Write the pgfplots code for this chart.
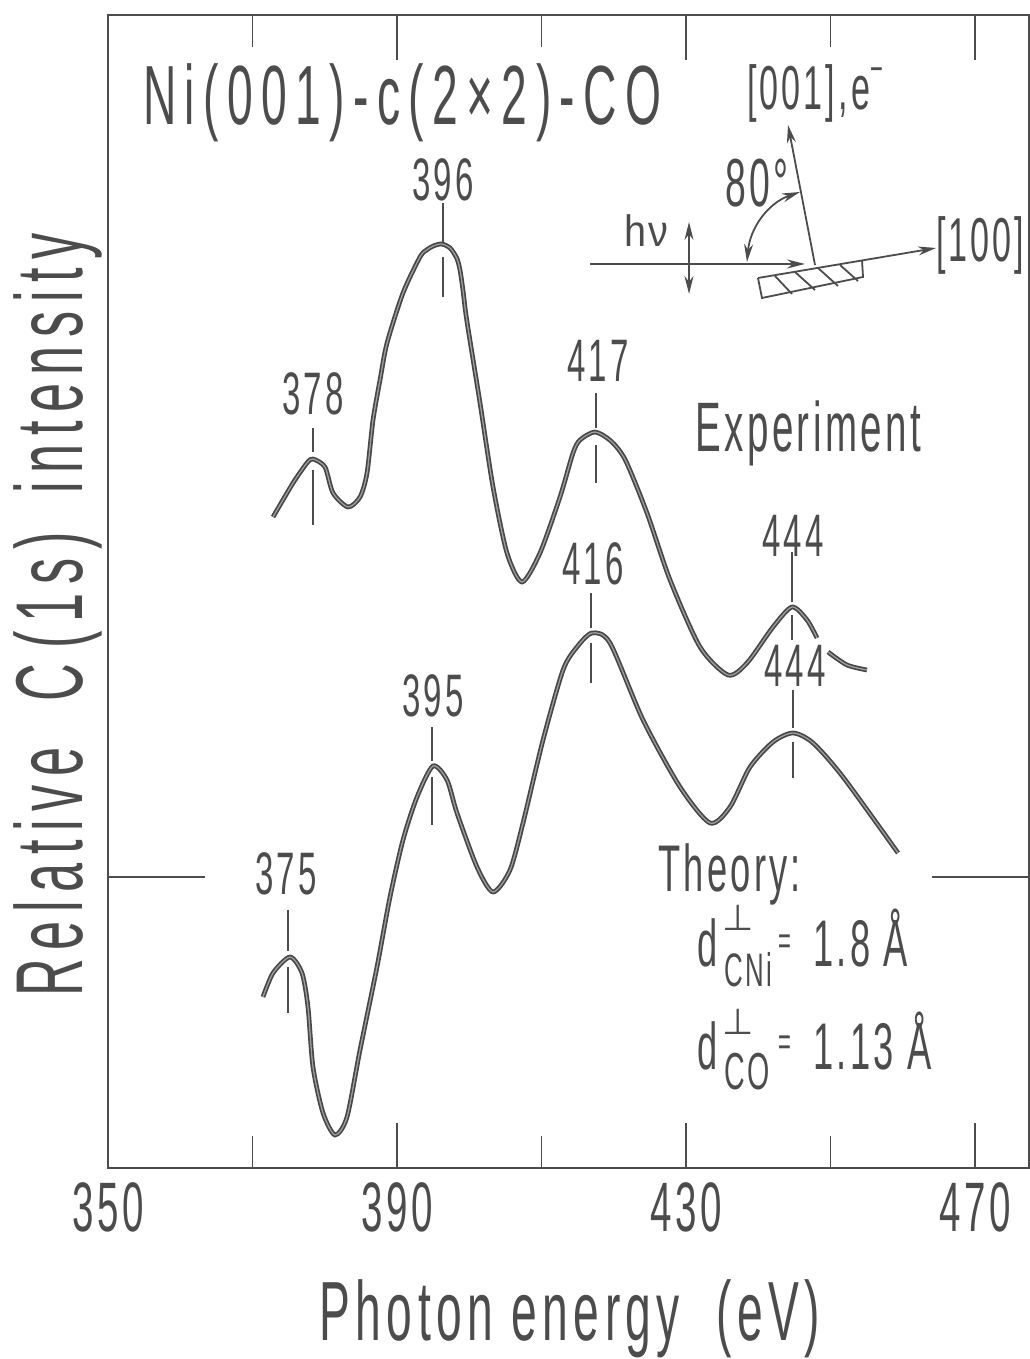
\documentclass[border=0pt]{standalone}
\usepackage{pgfplots}
\pgfplotsset{compat=1.18}
\usepackage{fontspec}
\setmainfont{Liberation Sans}[FakeStretch=0.55, LetterSpace=5]
\newfontfamily\symfont{DejaVu Sans}
\usetikzlibrary{arrows.meta}
\newcommand\fs[1]{\fontsize{#1pt}{#1pt}\selectfont}
\definecolor{ink}{gray}{0.3}
\pgfplotsset{curve/.style={draw=black!72, line width=1.7pt, double=black!38, double distance=1.3pt, smooth, tension=0.45}}
\begin{document}
\begin{tikzpicture}
\begin{axis}[
  scale only axis, width=921pt, height=1153pt,
  xmin=350, xmax=477.47, ymin=0, ymax=1153,
  axis line style={line width=2pt, ink},
  xtick={350,390,430,470}, xticklabels={350,390,430,470},
  minor xtick={370,410,450},
  ytick=\empty,
  major tick length=45pt, minor tick length=32pt,
  tick style={line width=1.6pt, ink},
  xticklabel style={font=\fs{70}, text=ink, inner sep=0pt, yshift=-14pt},
  clip=false,
]
% experiment
\addplot[curve] coordinates {
(372.84,651) (375.61,685) (377.54,705) (378.37,709) (380.03,701) (381.14,675)
(383.22,661) (384.88,671) (385.85,695) (386.68,748) (387.65,788) (388.62,825)
(390.83,875) (393.18,911) (394.10,918) (395.02,922) (396.17,924) (397.34,920)
(398.26,910) (398.72,898) (399.18,875) (399.65,848)
(401.49,765) (403.29,681) (405.22,615) (407.30,586) (409.79,615) (412.56,671)
(414.36,715) (415.33,728) (417.40,736) (419.60,727) (421.60,708) (424.60,655)
(427.79,588) (431.94,521) (435.81,493) (438.44,505) (442.04,541) (444.67,561)
(446.75,548) (448.13,530)
};
\addplot[curve] coordinates {
(449.65,516) (452.28,503) (455.05,498)
};
% theory
\addplot[curve] coordinates {
(371.45,171) (372.84,195) (375.19,211) (376.85,195) (377.68,161) (378.37,101)
(379.76,55) (381.42,33) (383.08,51) (384.88,118) (387.23,201) (389.03,271)
(390.83,328) (392.77,371) (394.98,402) (396.92,388) (398.30,355) (401.07,301)
(403.29,276) (405.64,298) (407.44,345) (410.21,428) (412.98,498) (414.91,521)
(416.99,535) (419.48,525) (424.05,448) (429.17,381) (433.32,345) (436.09,361)
(438.86,401) (442.04,426) (444.81,435) (447.58,425) (451.73,391) (459.34,315)
};
\draw[line width=2pt, ink] (axis cs:350,291) -- (axis cs:363.4,291);
\draw[line width=2pt, ink] (axis cs:464.05,291) -- (axis cs:477.47,291);
\end{axis}
\begin{scope}[x=1pt, y=-1pt, shift={(-108pt,1168pt)}, every node/.style={inner sep=0pt, text=ink}]
% peak markers
\begin{scope}[line width=1.6pt, ink]
\draw (313,428) -- (313,452); \draw (313,470) -- (313,525);
\draw (443,203) -- (443,242); \draw (443,257) -- (443,297);
\draw (596,393) -- (596,428); \draw (596,445) -- (596,483);
\draw (792,552) -- (792,602); \draw (792,615) -- (792,640);
\draw (591,593) -- (591,628); \draw (591,643) -- (591,683);
\draw (793,690) -- (793,728); \draw (793,742) -- (793,778);
\draw (432,727) -- (432,761); \draw (432,777) -- (432,825);
\draw (288,910) -- (288,951); \draw (288,967) -- (288,1013);
\end{scope}
\node[anchor=base] at (313,415) {\fs{60}378};
\node[anchor=base] at (443,201) {\fs{60}396};
\node[anchor=base] at (598,382) {\fs{60}417};
\node[anchor=base] at (793,557) {\fs{60}444};
\node[anchor=base] at (593,585) {\fs{60}416};
\node[anchor=base] at (795,687) {\fs{60}444};
\node[anchor=base] at (433,717) {\fs{60}395};
\node[anchor=base] at (286,895) {\fs{60}375};
% titles and labels
\node[anchor=base west] at (143,125) {\fs{84}\addfontfeature{LetterSpace=10}Ni(001)-c(2×2)-CO};
\node[anchor=base west] at (747,110) {\fs{62}[001],e\raisebox{0.45em}{\fs{40}−}};
\node[anchor=base west] at (725,207) {\fs{68}80°};
\node[anchor=base west] at (624,247) {\fs{44}\addfontfeature{FakeStretch=0.9}hν};
\node[anchor=base west] at (936,262) {\fs{62}[100]};
\node[anchor=base west] at (695,452) {\fs{70}Experiment};
\node[anchor=base west] at (658,892) {\fs{66}Theory:};
\node[anchor=base west] at (697,967) {\fs{66}d};
\node at (738,918) {\symfont\fs{36}⊥};
\node[anchor=base west] at (724,987) {\fs{47}CNi};
\node at (785,945) {\fs{40}=};
\node[anchor=base west] at (813,967) {\fs{66}1.8 Å};
\node[anchor=base west] at (697,1070) {\fs{66}d};
\node at (738,1022) {\symfont\fs{36}⊥};
\node[anchor=base west] at (724,1090) {\fs{52}CO};
\node at (785,1046) {\fs{40}=};
\node[anchor=base west] at (813,1070) {\fs{66}1.13 Å};
\node[rotate=90, anchor=base] at (83,615) {\fs{95}\addfontfeature{LetterSpace=9}Relative\ \ C\,(1s)\, intensity};
\node[anchor=base] at (570,1340) {\fs{84}\addfontfeature{LetterSpace=6.5}Photon energy\ \ (eV)};
% diagram
\begin{scope}[line width=1.8pt, ink, >={Stealth[length=18pt,width=9pt]}]
\draw[->] (590,264) -- (805,264);
\draw[<->] (689,222) -- (689,294);
\draw[->] (758,278) -- (936,248);
\draw (758,278) -- (762,298) -- (863,277) -- (862,260);
\draw (775,276) -- (792,294); \draw (795,272) -- (815,290);
\draw (818,268) -- (838,286); \draw (840,265) -- (858,281);
\draw[->] (815,265) -- (788,125);
\draw[<->] (747,262) .. controls (750,228) and (768,203) .. (800,192);
\end{scope}
\pgfresetboundingbox
\path (0,0) rectangle (1029,1359);
\end{scope}
\end{tikzpicture}
\end{document}
